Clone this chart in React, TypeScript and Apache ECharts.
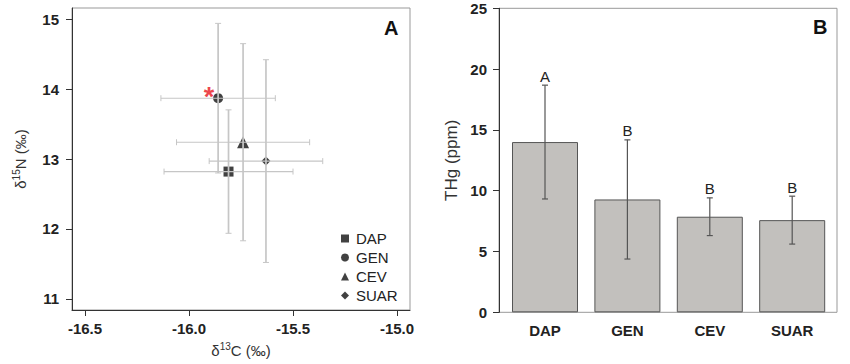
import { useEffect, useRef } from 'react';
import * as echarts from 'echarts';

const groups = ['DAP', 'GEN', 'CEV', 'SUAR'];
const d13C = [-15.81, -15.86, -15.74, -15.63];
const d13CSd = [0.31, 0.275, 0.32, 0.273];
const d15N = [12.82, 13.87, 13.24, 12.97];
const d15NSd = [0.883, 1.07, 1.41, 1.45];
const thg = [14.0, 9.28, 7.86, 7.58];
const thgSd = [4.68, 4.9, 1.55, 1.97];
const letters = ['A', 'B', 'B', 'B'];
const xTicksA = [-16.5, -16.0, -15.5, -15.0];
const yTicksA = [11, 12, 13, 14, 15];

const FONT = '"Liberation Sans", Arial, sans-serif';
const symbolsA = ['rect', 'circle', 'triangle', 'diamond'];
const symbolSizesA = [10, 10, 12, 9];

export default function App() {
  const ref = useRef<HTMLDivElement>(null);
  useEffect(() => {
    document.body.style.margin = '0';
    const chart = echarts.init(ref.current!, null, { renderer: 'svg' });

    const scatterSeries = groups.map((g, i) => ({
      type: 'scatter',
      name: g,
      xAxisIndex: 0,
      yAxisIndex: 0,
      symbol: symbolsA[i],
      symbolSize: symbolSizesA[i],
      itemStyle: { color: '#111' },
      z: 2,
      data: [
        g === 'GEN'
          ? {
              value: [d13C[i], d15N[i]],
              label: {
                show: true,
                formatter: '*',
                position: [-4, 4],
                align: 'center',
                verticalAlign: 'middle',
                color: '#e8141c',
                fontSize: 27,
                fontWeight: 'bold',
                fontFamily: FONT,
              },
            }
          : [d13C[i], d15N[i]],
      ],
    }));

    const errA = groups.map((g, i) => [d13C[i], d15N[i], d13CSd[i], d15NSd[i]]);
    const errB = groups.map((g, i) => [i, thg[i] - thgSd[i], thg[i] + thgSd[i], letters[i]]);

    const option: any = {
      animation: false,
      textStyle: { fontFamily: FONT },
      grid: [
        { left: 72, right: 440, top: 8, bottom: 52, show: true, borderColor: '#999', borderWidth: 1 },
        { left: 499, right: 13, top: 8.3, bottom: 51.7, show: true, borderColor: '#999', borderWidth: 1 },
        { left: 503.8, width: 329.6, top: 8.3, bottom: 51.7 },
      ],
      xAxis: [
        {
          type: 'value',
          gridIndex: 0,
          min: -16.5625,
          max: -14.9375,
          splitLine: { show: false },
          axisLine: { show: true, onZero: false, lineStyle: { color: '#333', width: 1 } },
          axisTick: { show: true, length: 6, customValues: xTicksA, lineStyle: { color: '#333' } },
          axisLabel: {
            customValues: xTicksA,
            formatter: (v: number) => v.toFixed(1),
            fontSize: 15,
            fontWeight: 'bold',
            color: '#222',
            margin: 11,
            fontFamily: FONT,
          },
          name: 'δ{sup|13}C (‰)',
          nameLocation: 'middle',
          nameGap: 31,
          nameTextStyle: {
            fontSize: 15,
            color: '#333',
            fontFamily: FONT,
            lineHeight: 18,
            rich: { sup: { fontSize: 10, verticalAlign: 'top', color: '#333', fontFamily: FONT, lineHeight: 12 } },
          },
        },
        { type: 'category', gridIndex: 1, data: groups, show: false },
        {
          type: 'category',
          gridIndex: 2,
          data: groups,
          axisLine: { show: false },
          axisTick: { show: false },
          axisLabel: { fontSize: 15, fontWeight: 'bold', color: '#222', margin: 11, fontFamily: FONT },
        },
      ],
      yAxis: [
        {
          type: 'value',
          gridIndex: 0,
          min: 10.84,
          max: 15.16,
          splitLine: { show: false },
          axisLine: { show: true, onZero: false, lineStyle: { color: '#333', width: 1 } },
          axisTick: { show: true, length: 6, customValues: yTicksA, lineStyle: { color: '#333' } },
          axisLabel: {
            customValues: yTicksA,
            fontSize: 15,
            fontWeight: 'bold',
            color: '#222',
            margin: 13,
            fontFamily: FONT,
          },
          name: 'δ{sup|15}N (‰)',
          nameLocation: 'middle',
          nameRotate: 90,
          nameGap: 43,
          nameTextStyle: {
            fontSize: 15,
            color: '#333',
            fontFamily: FONT,
            lineHeight: 18,
            rich: { sup: { fontSize: 10, verticalAlign: 'top', color: '#333', fontFamily: FONT, lineHeight: 12 } },
          },
        },
        {
          type: 'value',
          gridIndex: 1,
          min: 0,
          max: 25,
          interval: 5,
          splitLine: { show: false },
          axisLine: { show: true, lineStyle: { color: '#333', width: 1 } },
          axisTick: { show: true, length: 6, lineStyle: { color: '#333' } },
          axisLabel: { fontSize: 15, fontWeight: 'bold', color: '#222', margin: 12, fontFamily: FONT },
          name: 'THg (ppm)',
          nameLocation: 'middle',
          nameRotate: 90,
          nameGap: 39,
          nameTextStyle: { fontSize: 17, color: '#333', fontFamily: FONT },
        },
        { type: 'value', gridIndex: 2, min: 0, max: 25, show: false },
      ],
      legend: {
        orient: 'vertical',
        left: 336,
        top: 226,
        itemWidth: 8,
        itemHeight: 8,
        itemGap: 4,
        data: groups,
        textStyle: { fontSize: 15, lineHeight: 14, color: '#222', fontFamily: FONT, padding: [0, 0, 0, 2] },
      },
      graphic: [
        { type: 'text', left: 384, top: 18, style: { text: 'A', fontSize: 20, fontWeight: 'bold', fill: '#111', fontFamily: FONT } },
        { type: 'text', left: 813, top: 17, style: { text: 'B', fontSize: 20, fontWeight: 'bold', fill: '#111', fontFamily: FONT } },
      ],
      series: [
        ...scatterSeries,
        {
          type: 'custom',
          xAxisIndex: 0,
          yAxisIndex: 0,
          z: 3,
          encode: { x: 0, y: 1 },
          data: errA,
          renderItem: (params: any, api: any) => {
            const x = api.value(0);
            const y = api.value(1);
            const ex = api.value(2);
            const ey = api.value(3);
            const l = api.coord([x - ex, y]);
            const r = api.coord([x + ex, y]);
            const t = api.coord([x, y + ey]);
            const b = api.coord([x, y - ey]);
            const stroke = '#c6c6c6';
            const cw = 3;
            return {
              type: 'group',
              children: [
                { type: 'line', shape: { x1: t[0], y1: t[1], x2: b[0], y2: b[1] }, style: { stroke, lineWidth: 1.7 } },
                { type: 'line', shape: { x1: t[0] - cw, y1: t[1], x2: t[0] + cw, y2: t[1] }, style: { stroke, lineWidth: 1 } },
                { type: 'line', shape: { x1: b[0] - cw, y1: b[1], x2: b[0] + cw, y2: b[1] }, style: { stroke, lineWidth: 1 } },
                { type: 'line', shape: { x1: l[0], y1: l[1], x2: r[0], y2: r[1] }, style: { stroke, lineWidth: 1.1 } },
                { type: 'line', shape: { x1: l[0], y1: l[1] - cw, x2: l[0], y2: l[1] + cw }, style: { stroke, lineWidth: 1 } },
                { type: 'line', shape: { x1: r[0], y1: r[1] - cw, x2: r[0], y2: r[1] + cw }, style: { stroke, lineWidth: 1 } },
              ],
            };
          },
        },
        {
          type: 'bar',
          xAxisIndex: 2,
          yAxisIndex: 2,
          barWidth: 66,
          data: thg,
          itemStyle: { color: '#c2c0bd', borderColor: '#555', borderWidth: 1 },
          z: 2,
        },
        {
          type: 'custom',
          xAxisIndex: 2,
          yAxisIndex: 2,
          z: 3,
          encode: { x: 0, y: [1, 2] },
          data: errB,
          renderItem: (params: any, api: any) => {
            const i = api.value(0);
            const lo = api.coord([i, api.value(1)]);
            const hi = api.coord([i, api.value(2)]);
            const letter = letters[params.dataIndex];
            const stroke = '#555';
            const cw = 3;
            return {
              type: 'group',
              children: [
                { type: 'line', shape: { x1: hi[0], y1: hi[1], x2: lo[0], y2: lo[1] }, style: { stroke, lineWidth: 1.2 } },
                { type: 'line', shape: { x1: hi[0] - cw, y1: hi[1], x2: hi[0] + cw, y2: hi[1] }, style: { stroke, lineWidth: 1.2 } },
                { type: 'line', shape: { x1: lo[0] - cw, y1: lo[1], x2: lo[0] + cw, y2: lo[1] }, style: { stroke, lineWidth: 1.2 } },
                {
                  type: 'text',
                  x: hi[0],
                  y: hi[1] - 9,
                  style: { text: letter, fontSize: 15, fill: '#222', fontFamily: FONT, align: 'center', verticalAlign: 'middle' },
                },
              ],
            };
          },
        },
      ],
    };

    chart.setOption(option);
    return () => chart.dispose();
  }, []);
  return <div ref={ref} style={{ width: 850, height: 364 }} />;
}
